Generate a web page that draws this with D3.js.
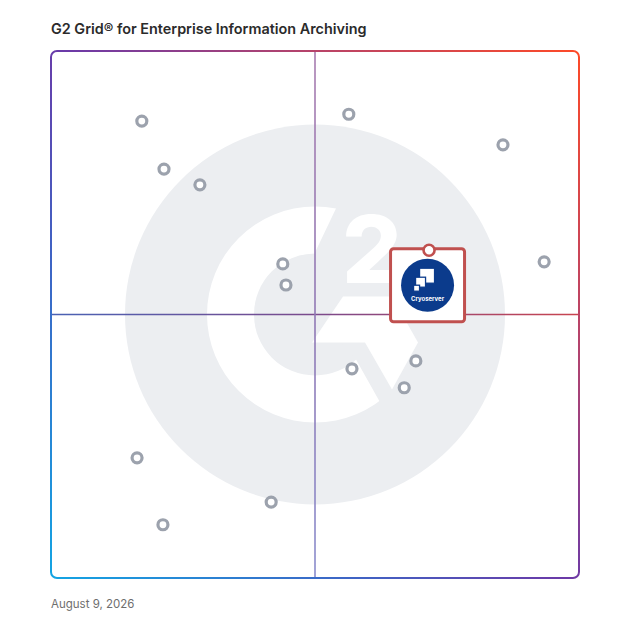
<!DOCTYPE html>
<html>
<head>
<meta charset="utf-8">
<script src="https://cdn.jsdelivr.net/npm/d3@7"></script>
<style>
  html, body { margin: 0; padding: 0; background: #fff; }
</style>
</head>
<body>
<div id="chart"></div>
<script>
// G2 Grid data (0-100 on both axes)
var chartTitle = "G2 Grid\u00AE for Enterprise Information Archiving";
var reportDate = "August 9, 2026";

// x = satisfaction, y = market presence, one entry per grey dot
var satisfaction   = [17.2, 21.4, 28.2, 56.4, 85.6, 43.9, 44.5, 93.4, 69.1, 57.0, 66.9, 16.3, 41.7, 21.2];
var marketPresence = [86.7, 77.6, 74.6, 88.0, 82.2, 59.6, 55.6, 60.0, 41.2, 39.7, 36.1, 22.8, 14.4, 10.1];

// the highlighted product
var featuredName = "Cryoserver";
var featuredX = 71.6;
var featuredY = 62.2;

var width = 628;
var height = 628;
var margin = ({ top: 51, right: 49, bottom: 50, left: 51 });

var xScale = d3.scaleLinear().domain([0, 100]).range([margin.left, width - margin.right]);
var yScale = d3.scaleLinear().domain([0, 100]).range([height - margin.bottom, margin.top]);

var svg = d3.select("#chart").append("svg")
  .attr("width", width)
  .attr("height", height)
  .attr("viewBox", [0, 0, width, height]);

var defs = svg.append("defs");

//border gradient: blue at bottom left, purple in the middle, orange at top right
var borderGrad = defs.append("linearGradient")
  .attr("id", "borderGrad")
  .attr("gradientUnits", "userSpaceOnUse")
  .attr("x1", 40).attr("y1", 575).attr("x2", 590).attr("y2", 55);
[["0", "#12a6e4"], ["0.3", "#3f63c4"], ["0.5", "#6b3aa8"], ["0.72", "#b2436e"], ["1", "#ff4a26"]]
  .forEach(s => borderGrad.append("stop").attr("offset", s[0]).attr("stop-color", s[1]));

var hGrad = defs.append("linearGradient").attr("id", "hGrad")
  .attr("gradientUnits", "userSpaceOnUse")
  .attr("x1", xScale(0)).attr("y1", 0).attr("x2", xScale(100)).attr("y2", 0);
[["0", "#4a62b4"], ["0.5", "#7b4a8c"], ["1", "#c9444f"]]
  .forEach(s => hGrad.append("stop").attr("offset", s[0]).attr("stop-color", s[1]));

var vGrad = defs.append("linearGradient").attr("id", "vGrad")
  .attr("gradientUnits", "userSpaceOnUse")
  .attr("x1", 0).attr("y1", yScale(100)).attr("x2", 0).attr("y2", yScale(0));
[["0", "#a87cb0"], ["0.5", "#9078b4"], ["1", "#8a8ccc"]]
  .forEach(s => vGrad.append("stop").attr("offset", s[0]).attr("stop-color", s[1]));

/* G2 watermark in the middle */
var cx = xScale(50), cy = yScale(50);

defs.append("clipPath").attr("id", "ringClip")
  .append("circle").attr("cx", cx).attr("cy", cy).attr("r", 110);

var logo = svg.append("g").attr("class", "watermark");

logo.append("circle")
  .attr("cx", cx).attr("cy", cy).attr("r", 190)
  .attr("fill", "#eceef1");

// the "G" ring
logo.append("path")
  .attr("transform", `translate(${cx},${cy})`)
  .attr("d", d3.arc().innerRadius(61).outerRadius(108).startAngle(0).endAngle(2 * Math.PI)())
  .attr("fill", "#fff");

// cut the opening on the right side of the G
logo.append("path")
  .attr("clip-path", "url(#ringClip)")
  .attr("d", d3.line()([
    [cx, cy - 62], [cx + 31, cy - 127], [cx + 140, cy - 127], [cx + 140, cy + 140],
    [cx + 82, cy + 118], [cx + 41, cy + 45], [cx, cy]
  ]))
  .attr("fill", "#eceef1");

// the chevron bar of the G
logo.append("path")
  .attr("d", d3.line()([
    [cx + 28, cy - 18], [cx + 77, cy - 18], [cx + 103, cy + 28],
    [cx + 77, cy + 75], [cx + 50, cy + 28], [cx - 3, cy + 28]
  ]))
  .attr("fill", "#fff");

logo.append("text")
  .attr("x", cx + 57).attr("y", cy - 32)
  .attr("text-anchor", "middle")
  .attr("font-family", "Inter, 'DejaVu Sans', sans-serif")
  .attr("font-weight", 800)
  .attr("font-size", 94)
  .attr("fill", "#fff")
  .text("2");

/* quadrant lines */
svg.append("line")
  .attr("x1", xScale(0)).attr("x2", xScale(100))
  .attr("y1", yScale(50)).attr("y2", yScale(50))
  .attr("stroke", "url(#hGrad)").attr("stroke-width", 1.6);

svg.append("line")
  .attr("x1", xScale(50)).attr("x2", xScale(50))
  .attr("y1", yScale(100)).attr("y2", yScale(0))
  .attr("stroke", "url(#vGrad)").attr("stroke-width", 1.6);

/* border */
svg.append("rect")
  .attr("x", xScale(0)).attr("y", yScale(100))
  .attr("width", xScale(100) - xScale(0))
  .attr("height", yScale(0) - yScale(100))
  .attr("rx", 6)
  .attr("fill", "none")
  .attr("stroke", "url(#borderGrad)")
  .attr("stroke-width", 2);

/* product dots */
var points = satisfaction.map((d, i) => ({ x: d, y: marketPresence[i] }));

svg.append("g").attr("class", "dots")
  .selectAll("circle")
  .data(points)
  .join("circle")
  .attr("cx", d => xScale(d.x))
  .attr("cy", d => yScale(d.y))
  .attr("r", 5)
  .attr("fill", "#fff")
  .attr("stroke", "#9ca2ad")
  .attr("stroke-width", 3.2);

/* featured product card */
var fx = xScale(featuredX), fy = yScale(featuredY);
var card = svg.append("g").attr("class", "featured");

card.append("rect")
  .attr("x", fx - 38.5).attr("y", fy - 1.5)
  .attr("width", 74).attr("height", 73)
  .attr("rx", 3)
  .attr("fill", "#fff")
  .attr("stroke", "#c0504f")
  .attr("stroke-width", 3);

card.append("circle")
  .attr("cx", fx - 1.5).attr("cy", fy + 35)
  .attr("r", 26.5)
  .attr("fill", "#0b3b8c");

//the stacked squares icon of the logo
var icon = card.append("g").attr("transform", `translate(${fx - 1.5},${fy + 35})`);
[[-8, -17, 15, 15], [-12, -8, 10, 10], [-14, 0, 6, 6]].forEach(function (s) {
  icon.append("rect")
    .attr("x", s[0]).attr("y", s[1])
    .attr("width", s[2]).attr("height", s[3])
    .attr("fill", "#fff")
    .attr("stroke", "#0b3b8c")
    .attr("stroke-width", 1.3);
});

card.append("text")
  .attr("x", fx - 1.5).attr("y", fy + 51)
  .attr("text-anchor", "middle")
  .attr("font-family", "Inter, 'Noto Sans', sans-serif")
  .attr("font-weight", 700)
  .attr("font-size", 6)
  .attr("fill", "#fff")
  .text(featuredName);

card.append("circle")
  .attr("cx", fx).attr("cy", fy)
  .attr("r", 5.5)
  .attr("fill", "#fff")
  .attr("stroke", "#c0504f")
  .attr("stroke-width", 2.6);

/* title and date */
svg.append("text")
  .attr("x", 51).attr("y", 34)
  .attr("font-family", "Inter, 'Noto Sans', sans-serif")
  .attr("font-weight", 600)
  .attr("font-size", 14.4)
  .attr("fill", "#2b2b2b")
  .text(chartTitle);

svg.append("text")
  .attr("x", 51).attr("y", 608)
  .attr("font-family", "Inter, 'Noto Sans', sans-serif")
  .attr("font-size", 11.5)
  .attr("fill", "#6e6e6e")
  .text(reportDate);
</script>
</body>
</html>
